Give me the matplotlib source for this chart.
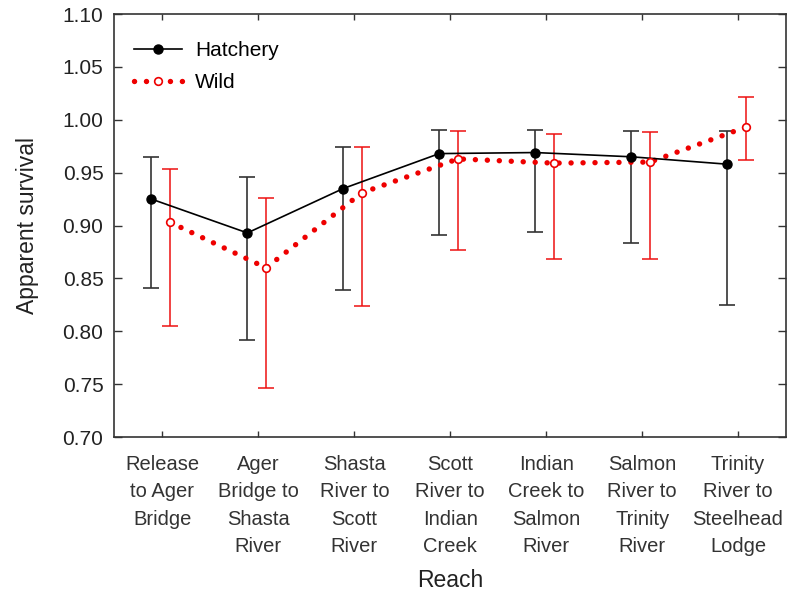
import matplotlib
matplotlib.use("Agg")
import matplotlib.pyplot as plt
from matplotlib.lines import Line2D
import numpy as np

# Apparent survival per reach, hatchery vs wild fish
reaches = ["Release\nto Ager\nBridge", "Ager\nBridge to\nShasta\nRiver",
           "Shasta\nRiver to\nScott\nRiver", "Scott\nRiver to\nIndian\nCreek",
           "Indian\nCreek to\nSalmon\nRiver", "Salmon\nRiver to\nTrinity\nRiver",
           "Trinity\nRiver to\nSteelhead\nLodge"]

hatch = [0.925, 0.893, 0.935, 0.968, 0.969, 0.965, 0.958]
hatch_lo = [0.841, 0.792, 0.839, 0.891, 0.894, 0.883, 0.825]
hatch_hi = [0.965, 0.946, 0.974, 0.990, 0.990, 0.989, 0.989]

wild = [0.903, 0.860, 0.931, 0.963, 0.959, 0.960, 0.993]
wild_lo = [0.805, 0.746, 0.824, 0.877, 0.868, 0.868, 0.962]
wild_hi = [0.953, 0.926, 0.974, 0.989, 0.987, 0.988, 1.022]

plt.rcParams['font.family'] = ['Liberation Sans', 'DejaVu Sans']

x = np.arange(1, len(reaches) + 1)
xh = x - 0.115
xw = x + 0.08

fig = plt.figure(figsize=(7.88, 5.94), dpi=100)
ax = fig.add_axes([0.1453, 0.2643, 0.8522, 0.7121])

hatch = np.array(hatch)
wild = np.array(wild)
h_err = [hatch - np.array(hatch_lo), np.array(hatch_hi) - hatch]
w_err = [wild - np.array(wild_lo), np.array(wild_hi) - wild]

# hatchery: solid line, filled dots
ax.errorbar(xh, hatch, yerr=h_err, fmt='none', ecolor='#333333',
            elinewidth=1.2, capsize=5.5, capthick=1.2, zorder=2)
ax.plot(xh, hatch, color='black', lw=1.2, marker='o', ms=6.5,
        mfc='black', mec='black', zorder=4)

# wild: heavy dotted line, open dots
ax.errorbar(xw, wild, yerr=w_err, fmt='none', ecolor='#ee1111',
            elinewidth=1.1, capsize=5.5, capthick=1.1, zorder=2)
wl, = ax.plot(xw, wild, color='#ee0000', lw=3.9, zorder=3,
              dash_capstyle='round')
wl.set_dashes([0.01, 2.2])
ax.plot(xw, wild, ls='none', marker='o', ms=5.5, mfc='white',
        mec='#ee0000', mew=1.2, zorder=5)

# legend handles
h1 = Line2D([], [], color='black', lw=1.2, marker='o', ms=6.5, mfc='black')
h2 = Line2D([], [], color='#ee0000', lw=3.9, dash_capstyle='round',
            marker='o', ms=5.5, mfc='white', mec='#ee0000', mew=1.2)
h2.set_dashes([0.01, 2.2])
ax.legend([h1, h2], ['Hatchery', 'Wild'], loc='upper left', frameon=False,
          fontsize=15, handlelength=2.35, handletextpad=0.6,
          bbox_to_anchor=(-0.012, 1.0), borderaxespad=0.9,
          labelspacing=0.62, borderpad=0.4)

ax.set_xlim(0.5, 7.5)
ax.set_ylim(0.70, 1.10)
yt = np.arange(0.70, 1.101, 0.05)
ax.set_yticks(yt)
ax.set_yticklabels([f"{v:.2f}" for v in yt])
ax.set_xticks(x)
ax.set_xticklabels(reaches, fontsize=14.5, linespacing=1.56, color='#222222')

ax.tick_params(axis='y', direction='in', length=6, width=1, labelsize=15,
               pad=8, right=True, colors='#333333', labelcolor='#222222')
ax.tick_params(axis='x', direction='in', length=4, width=1, pad=13,
               top=True, colors='#333333')
for s in ax.spines.values():
    s.set_color('#333333')
    s.set_linewidth(1.2)

ax.set_xlabel('Reach', fontsize=16.5, labelpad=9, color='#222222')
ax.set_ylabel('Apparent survival', fontsize=16.5, labelpad=17, color='#222222')

fig.savefig('out.png', dpi=100)
